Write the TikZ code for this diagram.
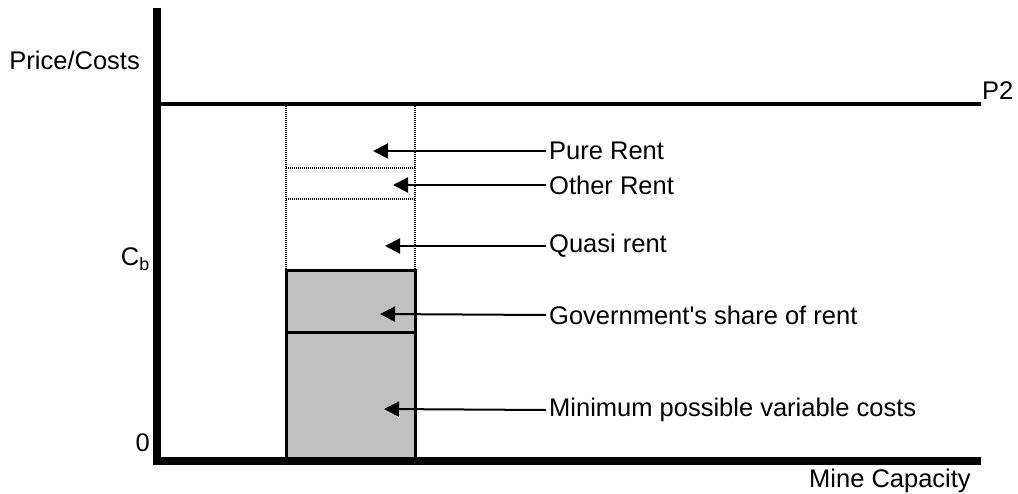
\documentclass[tikz,border=0pt]{standalone}
\usepackage{fontspec}
\setmainfont{Liberation Sans}
\newfontfamily\rawfont{Liberation Sans}
\usetikzlibrary{arrows.meta}
\begin{document}
\begin{tikzpicture}[x=1pt,y=-1pt,
  txt/.style={font=\fontsize{25.5}{30}\selectfont, inner sep=0pt},
  axis/.style={line width=8pt},
  pline/.style={line width=4pt},
  dotline/.style={line width=2pt, dash pattern=on 1pt off 1pt},
  box/.style={draw, line width=3pt, fill={rgb,255:red,192;green,192;blue,192}},
  arr/.style={line width=2pt, -{Triangle[length=15pt,width=15pt]}}]
\useasboundingbox (0,0) rectangle (1018,493);
% coordinates
\coordinate (ytop) at (157,8);
\coordinate (orig) at (157,461);
\coordinate (xend) at (981,461);
\coordinate (p2l) at (157,104);
\coordinate (p2r) at (981,104);
% dotted box
\draw[dotline] (286,106) -- (286,270);
\draw[dotline] (415,106) -- (415,270);
\draw[dotline] (286,168) -- (415,168);
\draw[dotline] (286,199) -- (415,199);
% gray boxes
\draw[box] (286,270) rectangle (415,332);
\draw[box] (286,332) rectangle (415,459);
% axes
\draw[pline] (p2l) -- (p2r);
\draw[axis] (ytop) -- (157,465);
\draw[axis] (153,461) -- (xend);
% axis labels
\node[txt, anchor=east] (pc) at (140,60) {Price/Costs};
\node[txt, anchor=east] (cb) at (150,259) {C\textsubscript{b}};
\node[txt, anchor=east] (zero) at (150,443) {0};
\node[txt, anchor=west] (mc) at (809,481) {Mine Capacity};
\node[txt, anchor=west] (p2) at (982,91) {P2};
% labels and arrows
\node[txt, anchor=west] (pure) at (549,151) {Pure Rent};
\node[txt, anchor=west] (other) at (549,185) {Other Rent};
\node[txt, anchor=west] (quasi) at (549,246) {Quasi rent};
\node[txt, anchor=west] (gov) at (549,315) {\rawfont Government's share of rent};
\node[txt, anchor=west] (minv) at (549,410) {Minimum possible variable costs};
\coordinate (tpure) at (373,151);
\coordinate (tother) at (393,185);
\coordinate (tquasi) at (385,246);
\coordinate (tgov) at (380,314);
\coordinate (tminv) at (384,409);
\draw[arr] ([xshift=-3pt]pure.west) -- (tpure);
\draw[arr] ([xshift=-3pt]other.west) -- (tother);
\draw[arr] ([xshift=-3pt]quasi.west) -- (tquasi);
\draw[arr] ([xshift=-3pt]gov.west) -- (tgov);
\draw[arr] ([xshift=-3pt]minv.west) -- (tminv);
\end{tikzpicture}
\end{document}
